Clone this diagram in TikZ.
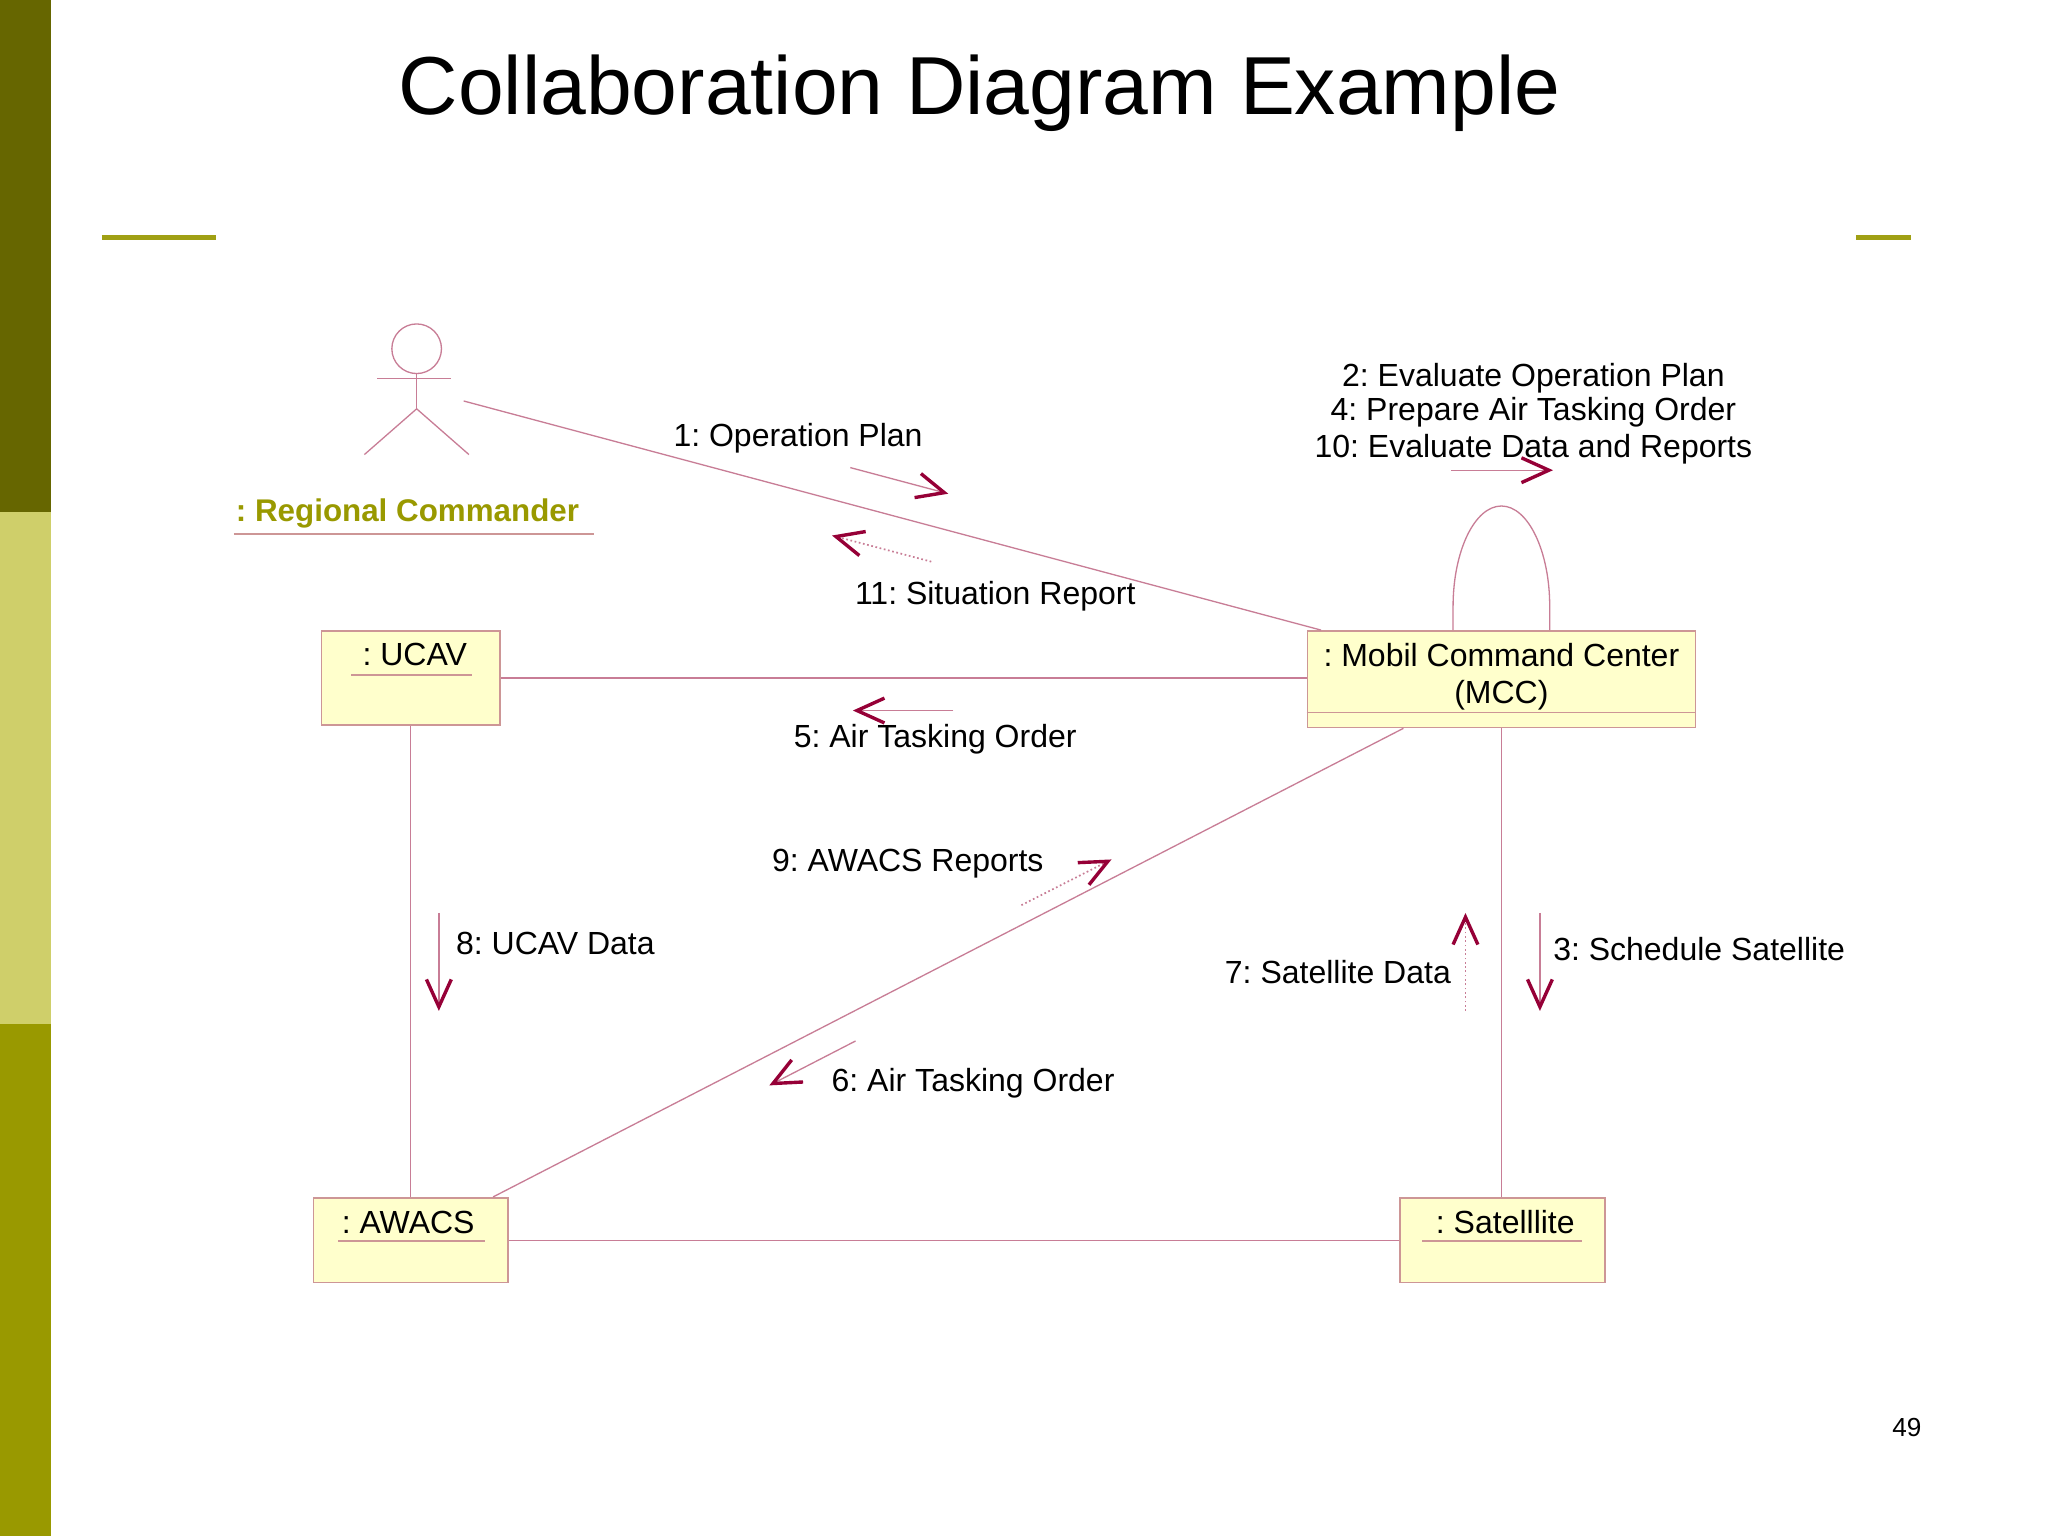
\documentclass[tikz,border=0pt]{standalone}
\usepackage{fontspec}
\setmainfont{Liberation Sans}
\usetikzlibrary{positioning}
\usetikzlibrary{arrows.meta}
\frenchspacing

\definecolor{barone}{RGB}{102,102,0}
\definecolor{bartwo}{RGB}{207,207,106}
\definecolor{barthree}{RGB}{153,153,0}
\definecolor{rulecol}{RGB}{160,160,20}
\definecolor{linkcol}{RGB}{200,125,150}
\definecolor{tipcol}{RGB}{150,0,55}
\definecolor{boxfill}{RGB}{255,255,204}
\definecolor{boxline}{RGB}{205,150,150}
\definecolor{actorcol}{RGB}{153,153,0}

\tikzset{
    objbox/.style={draw=boxline, fill=boxfill, line width=1.2pt, inner sep=0pt},
    link/.style={draw=linkcol, line width=1pt},
    msg/.style={draw=linkcol, line width=1pt, -{Straight Barb[length=21pt,width=19pt,line width=2.6pt,color=tipcol]}},
    reply/.style={msg, line width=1.3pt, dotted},
    lbl/.style={font=\fontsize{24.5}{28}\selectfont, inner sep=0pt},
}

\begin{document}
\begin{tikzpicture}[x=1pt, y=-1pt]
        \useasboundingbox (0,0) rectangle (1568,1176);
        \fill[white] (0,0) rectangle (1568,1176);

        % side bar and rules
        \fill[barone] (0,0) rectangle (39,392);
        \fill[bartwo] (0,392) rectangle (39,784);
        \fill[barthree] (0,784) rectangle (39,1176);
        \draw[rulecol, line width=4pt] (78,182) -- (165,182);
        \draw[rulecol, line width=4pt] (1421,182) -- (1463,182);

        \node[font=\fontsize{63}{70}\selectfont, inner sep=0pt, anchor=base] (title) at (750,88) {Collaboration Diagram Example};

        % actor
        \draw[link] (319,267) circle (19pt);
        \draw[link] (289,290) -- (345,290);
        \draw[link] (319,286) -- (319,313);
        \draw[link] (279,348) -- (319,313) -- (359,348);
        \coordinate (hand) at (355,307);
        \node[font=\bfseries\fontsize{24}{28}\selectfont, text=actorcol, inner sep=0pt, anchor=base] (cmdr) at (312,399) {: Regional Commander};
        \draw[boxline, line width=1.2pt] (179,409) -- (455,409);

        % objects
        \node[objbox, minimum width=137pt, minimum height=72pt] (ucav) at (314.5,519) {};
        \node[objbox, minimum width=297pt, minimum height=74pt] (mcc) at (1149.5,520) {};
        \node[objbox, minimum width=149pt, minimum height=65pt] (awacs) at (314.5,949.5) {};
        \node[objbox, minimum width=157pt, minimum height=65pt] (sat) at (1150.5,949.5) {};

        \node[lbl, anchor=base] (ucavname) at ([xshift=3pt,yshift=-27pt]ucav.north) {: UCAV};
        \node[lbl, anchor=base] (mccname) at ([yshift=-28pt]mcc.north) {: Mobil Command Center};
        \node[lbl, anchor=base] (mccabbr) at ([yshift=-56pt]mcc.north) {(MCC)};
        \node[lbl, anchor=base] (awacsname) at ([xshift=-2pt,yshift=-28pt]awacs.north) {: AWACS};
        \node[lbl, anchor=base] (satname) at ([xshift=2pt,yshift=-28pt]sat.north) {: Satelllite};

        \draw[boxline, line width=1.2pt] (269,517) -- (361,517);
        \draw[boxline, line width=1.2pt] ([yshift=-63pt]mcc.north west) -- ([yshift=-63pt]mcc.north east);
        \draw[boxline, line width=1.2pt] (259,950) -- (371,950);
        \draw[boxline, line width=1.2pt] (1089,950) -- (1211,950);

        % links
        \draw[link] (hand) -- ([xshift=11pt]mcc.north west);
        \draw[link] (ucav.east) -- (mcc.west |- ucav.east);
        \draw[link] (ucav.south) -- (awacs.north);
        \draw[link] (awacs.east) -- (sat.west);
        \draw[link] (mcc.south) -- (sat.north -| mcc.south);
        \draw[link] ([xshift=-75pt]mcc.south) -- ([xshift=63pt]awacs.north);
        \draw[link] ([xshift=-37pt]mcc.north) -- ++(0,-18) arc[start angle=180, end angle=0, x radius=37pt, y radius=77pt] -- ([xshift=37pt]mcc.north);

        % messages
        \coordinate (m1a) at (651,358);   \coordinate (m1b) at (726,378);
        \coordinate (m11a) at (713,430);  \coordinate (m11b) at (637,410);
        \coordinate (m5a) at (730,544);   \coordinate (m5b) at (653,544);
        \coordinate (m9a) at (782,693);   \coordinate (m9b) at (851,658);
        \coordinate (m6a) at (655,797);   \coordinate (m6b) at (589,831);
        \coordinate (m8a) at (336,699);   \coordinate (m8b) at (336,774);
        \coordinate (m7a) at (1122,774);  \coordinate (m7b) at (1122,699);
        \coordinate (m3a) at (1179,699);  \coordinate (m3b) at (1179,774);
        \coordinate (m2a) at (1111,360);  \coordinate (m2b) at (1189,360);

        \draw[msg] (m1a) -- (m1b);
        \draw[reply] (m11a) -- (m11b);
        \draw[msg] (m5a) -- (m5b);
        \draw[reply] (m9a) -- (m9b);
        \draw[msg] (m6a) -- (m6b);
        \draw[msg] (m8a) -- (m8b);
        \draw[reply] (m7a) -- (m7b);
        \draw[msg] (m3a) -- (m3b);
        \draw[msg] (m2a) -- (m2b);

        \node[lbl, anchor=base] (l1) at (611,342) {1: Operation Plan};
        \node[lbl, anchor=base] (l2) at (1174,296) {2: Evaluate Operation Plan};
        \node[lbl, anchor=base] (l4) at (1174,322) {4: Prepare Air Tasking Order};
        \node[lbl, anchor=base] (l10) at (1174,350) {10: Evaluate Data and Reports};
        \node[lbl, anchor=base] (l11) at (762,463) {11: Situation Report};
        \node[lbl, anchor=base] (l5) at (716,572) {5: Air Tasking Order};
        \node[lbl, anchor=base] (l9) at (695,667) {9: AWACS Reports};
        \node[lbl, anchor=base] (l6) at (745,836) {6: Air Tasking Order};
        \node[lbl, anchor=base west] (l8) at (349,731) {8: UCAV Data};
        \node[lbl, anchor=base east] (l7) at (1111,753) {7: Satellite Data};
        \node[lbl, anchor=base west] (l3) at (1189,735) {3: Schedule Satellite};

        \node[font=\fontsize{20}{24}\selectfont, inner sep=0pt, anchor=base] (pagenum) at (1460,1100) {49};
    \end{tikzpicture}
\end{document}
